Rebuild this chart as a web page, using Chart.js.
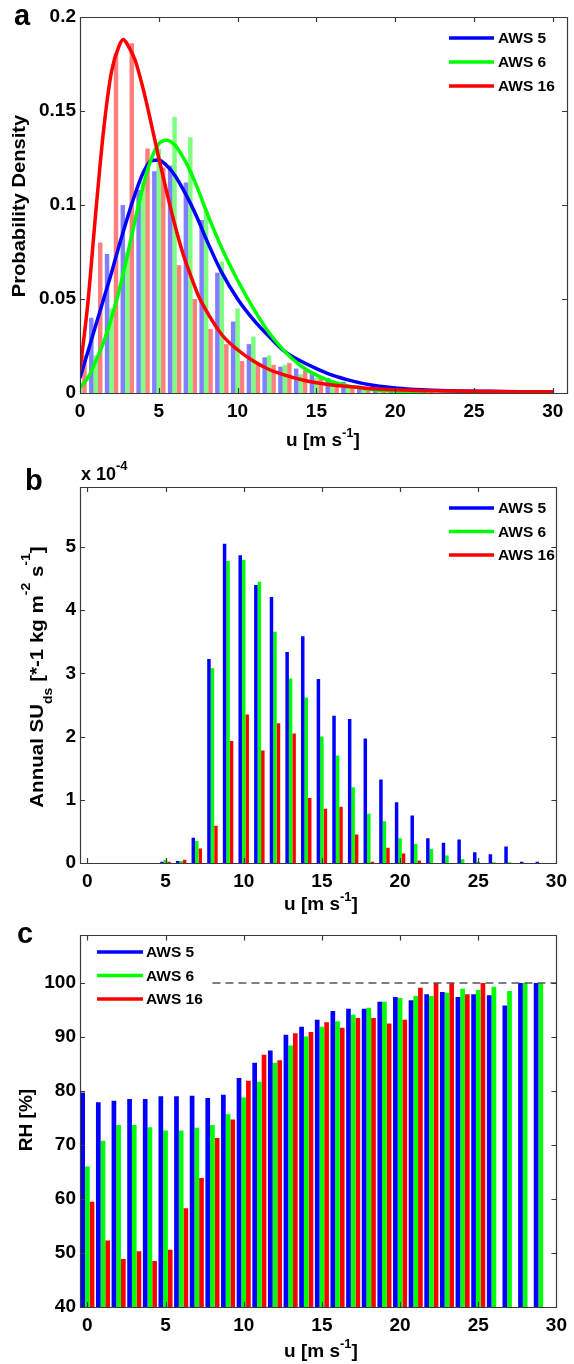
<!DOCTYPE html>
<html><head><meta charset="utf-8">
<script src="https://cdn.jsdelivr.net/npm/chart.js@4.4.0/dist/chart.umd.min.js"></script>
<style>
html,body{margin:0;padding:0;background:#fff;}
body{width:574px;height:1364px;position:relative;overflow:hidden;}
canvas{position:absolute;left:0;}
</style></head><body>
<canvas id="ca" style="top:0px" width="574" height="460"></canvas>
<canvas id="cb" style="top:460px" width="574" height="460"></canvas>
<canvas id="cc" style="top:920px" width="574" height="444"></canvas>
<script>
// ---------- DATA ----------
const seriesNames = ['AWS 5', 'AWS 6', 'AWS 16'];

// Panel a: histogram bins (u, m/s) and probability density per station
const histU = [0,1,2,3,4,5,6,7,8,9,10,11,12,13,14,15,16,17,18,19,20,21,22];
const histAWS5  = [0.010,0.040,0.074,0.100,0.108,0.118,0.121,0.112,0.092,0.064,0.038,0.026,0.019,0.014,0.013,0.010,0.008,0.006,0.004,0.003,0.002,0.0015,0.001];
const histAWS6  = [0.004,0.020,0.045,0.075,0.112,0.130,0.147,0.136,0.098,0.070,0.045,0.030,0.020,0.015,0.010,0.008,0.006,0.004,0.003,0.002,0.0015,0.001,0.0008];
const histAWS16 = [0.020,0.080,0.181,0.186,0.130,0.120,0.068,0.050,0.034,0.026,0.017,0.016,0.015,0.016,0.012,0.008,0.006,0.004,0.003,0.002,0.0015,0.001,0.0008];

// Panel a: fitted density curves
const fitU     = [0,0.5,1,1.5,2,2.5,2.75,3,3.5,4,4.5,5,5.5,6,6.5,7,7.5,8,9,10,11,12,13,14,15,16,17,18,19,20,22,24,26,28,30];
const fitAWS5  = [0.008,0.022,0.036,0.050,0.064,0.079,0.086,0.093,0.106,0.117,0.1235,0.124,0.121,0.116,0.109,0.101,0.092,0.082,0.064,0.050,0.039,0.030,0.022,0.017,0.013,0.0095,0.0070,0.0050,0.0036,0.0027,0.0016,0.0011,0.0009,0.0007,0.0006];
const fitAWS6  = [0.003,0.008,0.017,0.027,0.040,0.055,0.064,0.073,0.092,0.110,0.124,0.1325,0.1345,0.132,0.126,0.118,0.108,0.097,0.077,0.060,0.045,0.032,0.022,0.0145,0.0095,0.0060,0.0038,0.0024,0.0015,0.0010,0.0006,null,null,null,null];
const fitAWS16 = [0.012,0.048,0.096,0.140,0.171,0.185,0.188,0.1855,0.177,0.162,0.144,0.125,0.107,0.090,0.075,0.063,0.052,0.044,0.031,0.023,0.017,0.0125,0.0095,0.0072,0.0055,0.0043,0.0034,0.0027,0.0021,0.0017,0.0012,0.0010,0.0008,0.0007,0.0006];
const aYTicks = ['0','0.05','0.1','0.15','0.2'];

// Panel b: annual SU_ds (x 10^-4) per wind-speed bin
const suU = [0,1,2,3,4,5,6,7,8,9,10,11,12,13,14,15,16,17,18,19,20,21,22,23,24,25,26,27,28,29];
const suAWS5  = [0,0,0,0,0,0.02,0.03,0.40,3.23,5.05,4.87,4.40,4.21,3.34,3.59,2.91,2.33,2.28,1.97,1.32,0.96,0.75,0.39,0.32,0.37,0.17,0.14,0.26,0.02,0.02];
const suAWS6  = [0,0,0,0,0,0.05,0.03,0.35,3.08,4.78,4.80,4.45,3.66,2.92,2.62,2.00,1.70,1.20,0.78,0.66,0.39,0.30,0.22,0.12,0.06,0.02,0.01,0.01,0,0];
const suAWS16 = [0,0,0,0,0,0.02,0.05,0.23,0.59,1.93,2.35,1.78,2.21,2.05,1.03,0.86,0.89,0.45,0.02,0.24,0.15,0.04,0,0,0,0,0,0,0,0];

// Panel c: relative humidity (%) per wind-speed bin
const rhU = [0,1,2,3,4,5,6,7,8,9,10,11,12,13,14,15,16,17,18,19,20,21,22,23,24,25,26,27,28,29];
const rhAWS5  = [79.7,77.9,78.2,78.5,78.5,79.0,79.0,79.1,78.7,79.3,82.4,85.2,87.5,90.4,91.9,93.2,94.8,95.2,95.2,96.5,97.4,96.8,97.9,98.3,97.4,97.9,97.7,95.8,100,100];
const rhAWS6  = [66.0,70.8,73.7,73.7,73.3,72.7,72.7,73.2,73.7,75.7,78.8,81.7,85.2,88.4,90.1,91.9,92.9,94.1,95.4,96.5,97.2,97.6,97.6,98.2,98.9,98.7,99.3,98.5,100,100];
const rhAWS16 = [59.5,52.3,48.9,50.3,48.5,50.6,58.3,63.9,71.3,74.7,81.9,86.7,85.7,90.7,90.9,92.7,91.7,93.5,93.5,92.5,93.2,99.1,100,100,97.9,100,null,null,null,null];
const rhSaturationU = [8, 30];
const rhSaturation  = [100, 100];

// ---------- STYLE ----------
const FONT = "'Liberation Sans', Arial, Helvetica, sans-serif";
const solid = ['#0000ff', '#00ff00', '#ff0000'];
const light = ['rgba(0,0,255,0.5)', 'rgba(0,255,0,0.5)', 'rgba(255,0,0,0.5)'];

function pts(xs, ys) { return xs.map((x, i) => ({x, y: ys[i]})).filter(p => p.y !== null); }

function rich(ctx, it) {
  const size = it.size || 19, stretch = it.stretch || 1;
  ctx.save();
  ctx.translate(it.x, it.y);
  ctx.rotate(it.rot || 0);
  ctx.scale(stretch, 1);
  ctx.fillStyle = '#000';
  ctx.textBaseline = it.baseline || 'alphabetic';
  ctx.textAlign = 'left';
  let w = 0;
  for (const p of it.parts) { ctx.font = `bold ${p.size || size}px ${FONT}`; w += ctx.measureText(p.t).width; }
  let cx = it.align === 'center' ? -w / 2 : 0;
  for (const p of it.parts) {
    ctx.font = `bold ${p.size || size}px ${FONT}`;
    ctx.fillText(p.t, cx, p.dy || 0);
    cx += ctx.measureText(p.t).width;
  }
  ctx.restore();
}

const framePlugin = {
  id: 'frame',
  afterDatasetsDraw(chart) {
    const {ctx, chartArea: a, scales: {x, y}} = chart;
    ctx.save();
    ctx.strokeStyle = '#3a3a3a';
    ctx.lineWidth = 1.2;
    ctx.beginPath();
    ctx.rect(Math.round(a.left) + 0.5, Math.round(a.top) + 0.5, Math.round(a.right - a.left), Math.round(a.bottom - a.top));
    const L = 5;
    x.ticks.forEach(t => {
      const px = Math.round(x.getPixelForValue(t.value)) + 0.5;
      ctx.moveTo(px, a.bottom); ctx.lineTo(px, a.bottom - L);
      ctx.moveTo(px, a.top); ctx.lineTo(px, a.top + L);
    });
    y.ticks.forEach(t => {
      const py = Math.round(y.getPixelForValue(t.value)) + 0.5;
      ctx.moveTo(a.left, py); ctx.lineTo(a.left + L, py);
      ctx.moveTo(a.right, py); ctx.lineTo(a.right - L, py);
    });
    ctx.stroke();
    ctx.restore();
  },
  afterDraw(chart, args, opts) {
    const ctx = chart.ctx;
    (opts.texts || []).forEach(t => rich(ctx, t));
    const lg = opts.legend;
    if (lg) {
      seriesNames.forEach((n, i) => {
        const yy = lg.y + i * lg.dy;
        ctx.save();
        ctx.strokeStyle = solid[i]; ctx.lineWidth = 3.5;
        ctx.beginPath(); ctx.moveTo(lg.x0, yy); ctx.lineTo(lg.x1, yy); ctx.stroke();
        ctx.fillStyle = '#000'; ctx.font = `bold 15.5px ${FONT}`;
        ctx.textBaseline = 'middle'; ctx.textAlign = 'left';
        ctx.fillText(n, lg.tx, yy + 1);
        ctx.restore();
      });
    }
  }
};
Chart.register(framePlugin);

function baseScales(xmin, xmax, ymin, ymax, ystep, yfmt) {
  const tickFont = {family: FONT, size: 19, weight: 'bold'};
  return {
    x: {
      type: 'linear', min: xmin, max: xmax, offset: false,
      grid: {display: false, drawTicks: false}, border: {display: false},
      ticks: {stepSize: 5, includeBounds: false, autoSkip: false, maxRotation: 0, padding: 7, color: '#000', font: tickFont},
      afterFit: s => { s.height = 40; }
    },
    y: {
      min: ymin, max: ymax,
      grid: {display: false, drawTicks: false}, border: {display: false},
      ticks: {stepSize: ystep, includeBounds: false, padding: 4, color: '#000', font: tickFont,
        callback: yfmt || (v => String(+v.toFixed(2)))},
      afterFit: s => { s.width = 70; }
    }
  };
}

function commonOpts(pad, scales, frameOpts) {
  return {
    responsive: false, animation: false, events: [],
    layout: {padding: pad},
    scales,
    plugins: {legend: {display: false}, tooltip: {enabled: false}, frame: frameOpts}
  };
}

const xTitleParts = [{t: 'u [m s'}, {t: '-1', size: 13, dy: -9}, {t: ']'}];

// ---------- PANEL A ----------
new Chart(document.getElementById('ca'), {
  type: 'bar',
  data: {
    datasets: [
      ...[histAWS5, histAWS6, histAWS16].map((d, i) => ({
        type: 'bar', label: seriesNames[i], data: pts(histU, d), backgroundColor: light[i],
        borderWidth: 0, categoryPercentage: 0.85, barPercentage: 1.0, order: 10
      })),
      ...[fitAWS5, fitAWS6, fitAWS16].map((d, i) => ({
        type: 'line', label: seriesNames[i] + ' fit', data: pts(fitU, d), borderColor: solid[i],
        borderWidth: 3.5, pointRadius: 0, fill: false, cubicInterpolationMode: 'monotone', order: 3 - i
      }))
    ]
  },
  options: commonOpts({left: 10, right: 7, top: 17, bottom: 27},
    baseScales(0, 30.9, 0, 0.2, 0.05, v => aYTicks[Math.round(v / 0.05)] ?? ''),
    {
      texts: [
        {x: 14, y: 25, size: 29, parts: [{t: 'a'}]},
        {x: 24.5, y: 206, rot: -Math.PI / 2, align: 'center', stretch: 1.06, parts: [{t: 'Probability Density'}]},
        {x: 323, y: 446, align: 'center', parts: xTitleParts}
      ],
      legend: {x0: 449, x1: 494, tx: 498, y: 38, dy: 24}
    })
});

// ---------- PANEL B ----------
new Chart(document.getElementById('cb'), {
  type: 'bar',
  data: {
    datasets: [suAWS5, suAWS6, suAWS16].map((d, i) => ({
      label: seriesNames[i], data: pts(suU, d), backgroundColor: solid[i],
      borderWidth: 0, categoryPercentage: 0.67, barPercentage: 1.0
    }))
  },
  options: commonOpts({left: 10, right: 13, top: 27, bottom: 17},
    baseScales(-0.47, 30, 0, 5.95, 1, v => String(v)),
    {
      texts: [
        {x: 25, y: 30, size: 29, parts: [{t: 'b'}]},
        {x: 81, y: 20, size: 18, parts: [{t: 'x 10'}, {t: '-4', size: 13, dy: -10}]},
        {x: 43, y: 217, rot: -Math.PI / 2, align: 'center', stretch: 1.08,
          parts: [{t: 'Annual SU'}, {t: 'ds', size: 13, dy: 9}, {t: ' [*-1 kg m'}, {t: '-2', size: 13, dy: -13}, {t: ' s'}, {t: '-1', size: 13, dy: -13}, {t: ']'}]},
        {x: 321, y: 450, align: 'center', parts: xTitleParts}
      ],
      legend: {x0: 449, x1: 494, tx: 498, y: 48, dy: 23.5}
    })
});

// ---------- PANEL C ----------
new Chart(document.getElementById('cc'), {
  type: 'bar',
  data: {
    datasets: [
      ...[rhAWS5, rhAWS6, rhAWS16].map((d, i) => ({
        type: 'bar', label: seriesNames[i], data: pts(rhU, d), backgroundColor: solid[i],
        borderWidth: 0, categoryPercentage: 0.9, barPercentage: 1.0, order: 10
      })),
      {type: 'line', label: 'saturation', data: pts(rhSaturationU, rhSaturation), borderColor: '#555',
        borderWidth: 1.5, borderDash: [8, 5], pointRadius: 0, fill: false, order: 1}
    ]
  },
  options: commonOpts({left: 10, right: 13, top: 12, bottom: 17},
    baseScales(-0.47, 30, 40, 108.8, 10, v => String(v)),
    {
      texts: [
        {x: 17, y: 23, size: 29, parts: [{t: 'c'}]},
        {x: 32, y: 200, rot: -Math.PI / 2, align: 'center', parts: [{t: 'RH [%]'}]},
        {x: 321, y: 437, align: 'center', parts: xTitleParts}
      ],
      legend: {x0: 97, x1: 143, tx: 146, y: 32, dy: 23.5}
    })
});
</script>
</body></html>
